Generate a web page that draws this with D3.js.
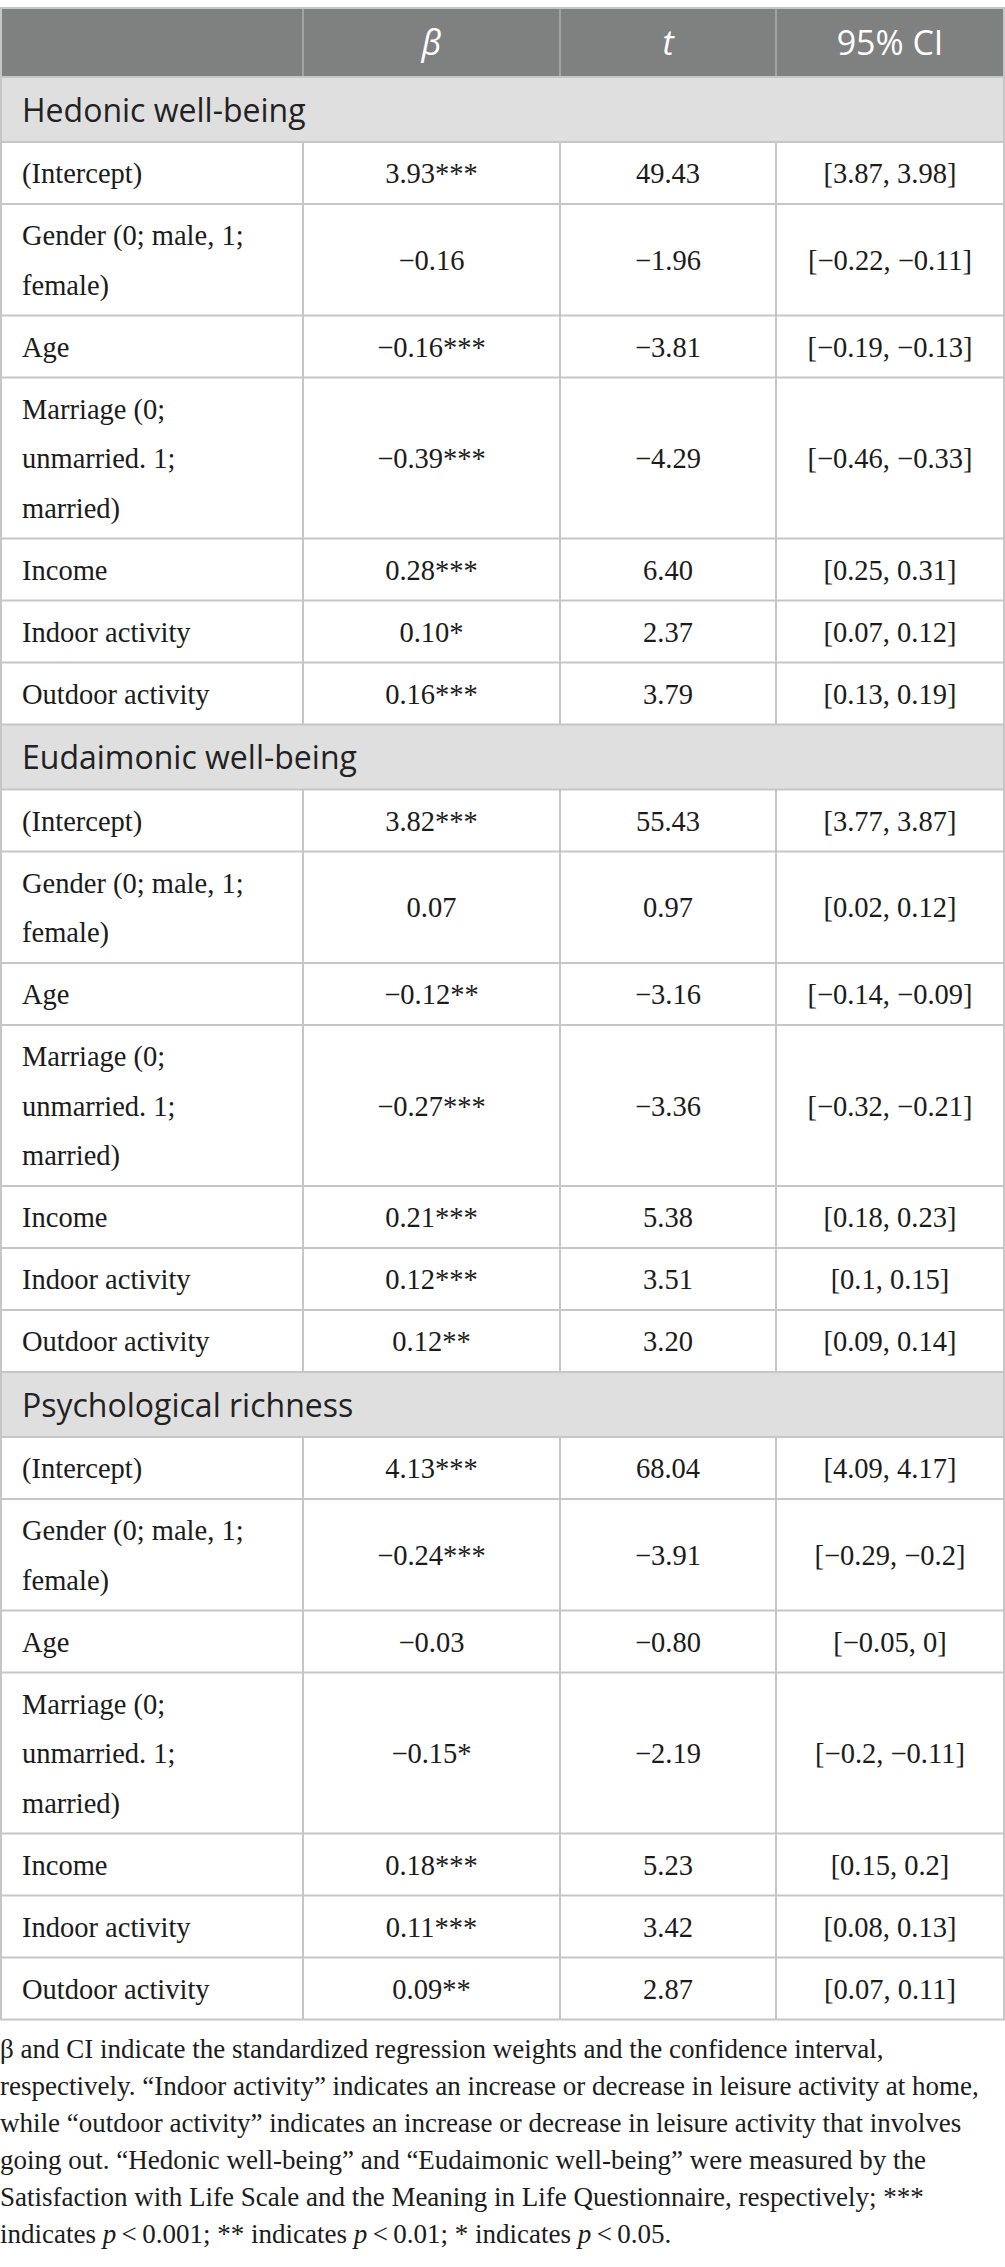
<!DOCTYPE html>
<meta charset="utf-8">
<style>
 body { margin: 0; background: #fff; }
 .cell text { font: 28.5px "Liberation Serif", serif; fill: #1b1b1b; }
 .section text { font: 32px "Open Sans", sans-serif; fill: #222; }
 .head text { font: 34px "Open Sans", sans-serif; fill: #fff; }
 .note text { font: 27px "Liberation Serif", serif; fill: #1b1b1b; }
 .grid { stroke: #c6c6c6; stroke-width: 2px; }
</style>
<svg class="table"></svg>
<script src="https://cdn.jsdelivr.net/npm/d3@7"></script>
<script>

 var width = 1005, height = 2267;

 // table content
 var columns = ["", "β", "t", "95% CI"];
 var groups = ["Hedonic well-being", "Eudaimonic well-being", "Psychological richness"];
 var predictors = [
     ["(Intercept)"],
     ["Gender (0; male, 1;", "female)"],
     ["Age"],
     ["Marriage (0;", "unmarried. 1;", "married)"],
     ["Income"],
     ["Indoor activity"],
     ["Outdoor activity"]
 ];
 var betas = [
     ["3.93***", "−0.16", "−0.16***", "−0.39***", "0.28***", "0.10*", "0.16***"],
     ["3.82***", "0.07", "−0.12**", "−0.27***", "0.21***", "0.12***", "0.12**"],
     ["4.13***", "−0.24***", "−0.03", "−0.15*", "0.18***", "0.11***", "0.09**"]
 ];
 var tvalues = [
     ["49.43", "−1.96", "−3.81", "−4.29", "6.40", "2.37", "3.79"],
     ["55.43", "0.97", "−3.16", "−3.36", "5.38", "3.51", "3.20"],
     ["68.04", "−3.91", "−0.80", "−2.19", "5.23", "3.42", "2.87"]
 ];
 var cis = [
     ["[3.87, 3.98]", "[−0.22, −0.11]", "[−0.19, −0.13]", "[−0.46, −0.33]", "[0.25, 0.31]", "[0.07, 0.12]", "[0.13, 0.19]"],
     ["[3.77, 3.87]", "[0.02, 0.12]", "[−0.14, −0.09]", "[−0.32, −0.21]", "[0.18, 0.23]", "[0.1, 0.15]", "[0.09, 0.14]"],
     ["[4.09, 4.17]", "[−0.29, −0.2]", "[−0.05, 0]", "[−0.2, −0.11]", "[0.15, 0.2]", "[0.08, 0.13]", "[0.07, 0.11]"]
 ];
 var notes = [
     "β and CI indicate the standardized regression weights and the confidence interval,",
     "respectively. “Indoor activity” indicates an increase or decrease in leisure activity at home,",
     "while “outdoor activity” indicates an increase or decrease in leisure activity that involves",
     "going out. “Hedonic well-being” and “Eudaimonic well-being” were measured by the",
     "Satisfaction with Life Scale and the Meaning in Life Questionnaire, respectively; ***",
     "indicates |p| < 0.001; ** indicates |p| < 0.01; * indicates |p| < 0.05."
 ];

 var svg = d3.select(".table").attr("width", width).attr("height", height);

 // column edges
 var colEdge = d3.scaleOrdinal().domain([0, 1, 2, 3, 4]).range([1, 303, 560, 776, 1004]);
 var colMid = function(i) { return (colEdge(i) + colEdge(i + 1)) / 2; };

 var tableTop = 8, headH = 69, secH = 65, lineH = 49.5, padH = 12.5;
 var rowH = function(lines) { return padH + lineH * lines; };

 // build row list with y positions
 var rows = [];
 var y = tableTop + headH;
 groups.forEach(function(g, gi) {
     rows.push({type: "section", y: y, h: secH, label: g});
     y += secH;
     predictors.forEach(function(p, pi) {
	 var h = rowH(p.length);
	 rows.push({type: "cell", y: y, h: h, label: p,
		    vals: [betas[gi][pi], tvalues[gi][pi], cis[gi][pi]]});
	 y += h;
     });
 });
 var tableBottom = y;

 // header
 var head = svg.append("g").attr("class", "head");
 head.append("rect").attr("x", colEdge(0)).attr("y", tableTop)
     .attr("width", colEdge(4) - colEdge(0)).attr("height", headH).attr("fill", "#7f8180");
 [1, 2, 3].forEach(function(i) {
     head.append("line").attr("x1", colEdge(i)).attr("x2", colEdge(i))
	 .attr("y1", tableTop).attr("y2", tableTop + headH)
	 .attr("stroke", "#a2a4a3").attr("stroke-width", 2);
 });
 head.selectAll("text").data(columns.slice(1)).enter()
     .append("text")
     .attr("x", function(d, i) { return colMid(i + 1); })
     .attr("y", tableTop + headH / 2 + 12)
     .attr("text-anchor", "middle")
     .style("font-style", function(d) { return d == "95% CI" ? "normal" : "italic"; })
     .text(function(d) { return d; });

 // sections
 var sec = svg.selectAll(".section").data(rows.filter(function(r) { return r.type == "section"; }))
     .enter().append("g").attr("class", "section");
 sec.append("rect").attr("x", colEdge(0)).attr("y", function(d) { return d.y; })
     .attr("width", colEdge(4) - colEdge(0)).attr("height", function(d) { return d.h; })
     .attr("fill", "#e0dfe0");
 sec.append("text").attr("x", 22).attr("y", function(d) { return d.y + d.h / 2 + 12; })
     .text(function(d) { return d.label; });

 // data rows
 var cell = svg.selectAll(".cell").data(rows.filter(function(r) { return r.type == "cell"; }))
     .enter().append("g").attr("class", "cell");

 cell.each(function(d) {
     var g = d3.select(this);
     var mid = d.y + d.h / 2;
     var n = d.label.length;
     d.label.forEach(function(line, li) {
	 g.append("text").attr("x", 22)
	     .attr("y", mid + (li - (n - 1) / 2) * lineH + 10)
	     .text(line);
     });
     d.vals.forEach(function(v, vi) {
	 g.append("text").attr("x", colMid(vi + 1)).attr("y", mid + 10)
	     .attr("text-anchor", "middle").text(v);
     });
     [1, 2, 3].forEach(function(i) {
	 g.append("line").attr("class", "grid")
	     .attr("x1", colEdge(i)).attr("x2", colEdge(i))
	     .attr("y1", d.y).attr("y2", d.y + d.h);
     });
 });

 // horizontal rules below every row
 svg.selectAll(".hrule").data(rows).enter()
     .append("line").attr("class", "grid")
     .attr("x1", colEdge(0)).attr("x2", colEdge(4))
     .attr("y1", function(d) { return d.y; }).attr("y2", function(d) { return d.y; });

 // outer border
 svg.append("rect").attr("x", colEdge(0)).attr("y", tableTop)
     .attr("width", colEdge(4) - colEdge(0)).attr("height", tableBottom - tableTop)
     .attr("fill", "none").attr("stroke", "#c6c6c6").attr("stroke-width", 2);

 // footnote, |p| marks the italic p
 var note = svg.append("g").attr("class", "note");
 notes.forEach(function(line, i) {
     var t = note.append("text").attr("x", 0).attr("y", tableBottom + 38 + i * 37);
     line.split("|").forEach(function(part, pi) {
	 var ts = t.append("tspan").text(part.replace(/ < /g, "\u2009<\u2009"));
	 if (pi % 2 == 1) ts.style("font-style", "italic");
     });
 });

</script>
